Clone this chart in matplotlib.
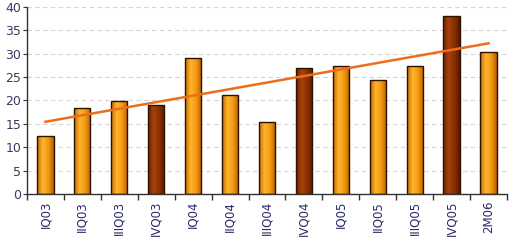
import numpy as np
import matplotlib.pyplot as plt
from matplotlib.colors import LinearSegmentedColormap

categories = ['IQ03', 'IIQ03', 'IIIQ03', 'IVQ03', 'IQ04', 'IIQ04', 'IIIQ04',
              'IVQ04', 'IQ05', 'IIQ05', 'IIIQ05', 'IVQ05', '2M06']
values = [12.4, 18.5, 19.9, 19.0, 29.0, 21.1, 15.5, 26.9, 27.4, 24.3, 27.4, 38.1, 30.4]
yticks = [0, 5, 10, 15, 20, 25, 30, 35, 40]

x = np.arange(len(categories))
is_q4 = [c.startswith('IVQ') for c in categories]

fig = plt.figure(figsize=(5.09, 2.41), dpi=100)
ax = fig.add_axes([0.053, 0.195, 0.943, 0.776])

orange_cm = LinearSegmentedColormap.from_list('o', ['#c86a00', '#ffb52e', '#f39a10', '#b85c00'])
brown_cm = LinearSegmentedColormap.from_list('b', ['#6a2000', '#a8420a', '#8a3000', '#5a1a00'])

w = 0.44
bars = ax.bar(x, values, width=w, color='none', edgecolor='#2a1400', linewidth=1.0, zorder=3)
grad = np.linspace(0, 1, 64).reshape(1, -1)
for b, q4 in zip(bars, is_q4):
    x0, y0 = b.get_x(), b.get_y()
    im = ax.imshow(grad, cmap=brown_cm if q4 else orange_cm, aspect='auto',
                   extent=[x0, x0 + b.get_width(), y0, y0 + b.get_height()], zorder=2)
    im.set_clip_path(b)

# linear trend line
k, c = np.polyfit(x, values, 1)
ax.plot(x, k * x + c, color='#ec6e1a', linewidth=1.8, zorder=4)

ax.set_xlim(-0.5, len(categories) - 0.5)
ax.set_ylim(0, 40)
ax.set_yticks(yticks)
ax.yaxis.grid(True, linestyle=(0, (4, 3)), color='#d4d4d4', linewidth=0.8)
ax.set_axisbelow(True)

ax.set_xticks(x)
ax.set_xticklabels(categories, rotation=90, fontsize=8.5, color='#2a2a6a')
ax.tick_params(axis='x', which='major', length=0, pad=5)
ax.set_xticks(np.arange(-0.5, len(categories), 1), minor=True)
ax.tick_params(axis='x', which='minor', length=4, color='#333333', width=1)
ax.tick_params(axis='y', length=3, color='#333333', labelsize=9, labelcolor='#3a3a5e', pad=1)

for s in ['top', 'right']:
    ax.spines[s].set_visible(False)
for s in ['left', 'bottom']:
    ax.spines[s].set_color('#333333')
    ax.spines[s].set_linewidth(1.0)

fig.savefig('out.png', dpi=100)
